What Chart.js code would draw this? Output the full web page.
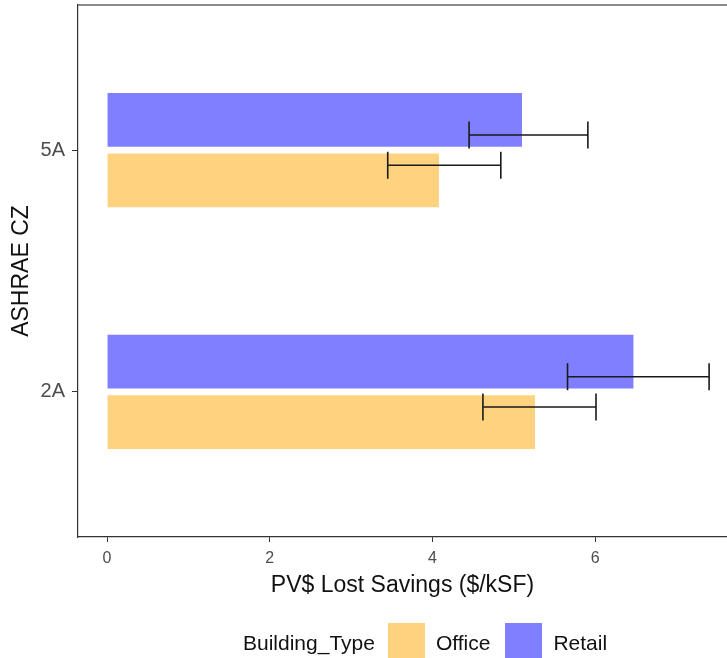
<!DOCTYPE html>
<html>
<head>
<meta charset="utf-8">
<script src="https://cdn.jsdelivr.net/npm/chart.js@4.4.1/dist/chart.umd.min.js"></script>
<style>
    html, body { margin: 0; padding: 0; background: #fff; }
    #wrap { position: relative; width: 727px; height: 658px; overflow: hidden; }
    #legend {
        position: absolute; left: 243px; top: 623px; height: 40px;
        display: flex; align-items: flex-start;
        font-family: "Liberation Sans", Arial, sans-serif; font-size: 21px; color: #111;
    }
    #legend .lbl { line-height: 40px; height: 40px; }
    #legend .sw { width: 37px; height: 40px; }
</style>
</head>
<body>
<div id="wrap">
    <canvas id="chart" width="727" height="658"></canvas>
    <div id="legend"></div>
</div>
<script>
    "use strict";

    /* --- Data --- */
    var zones = ["2A", "5A"];
    var zonePos = [1, 2];
    var officeVals = [5.26, 4.08];
    var officeLow = [4.62, 3.45];
    var officeHigh = [6.01, 4.84];
    var retailVals = [6.47, 5.10];
    var retailLow = [5.66, 4.45];
    var retailHigh = [7.40, 5.91];
    var xTicks = [0, 2, 4, 6];

    var FONT = "'Liberation Sans', Arial, sans-serif";
    var officeColor = "rgba(255, 165, 0, 0.5)";
    var retailColor = "rgba(0, 0, 255, 0.5)";

    function points(vals) {
        return vals.map(function (v, i) { return { x: v, y: zonePos[i] }; });
    }

    /* --- Error bars, drawn at half the bar offset like ggplot's dodge --- */
    var errorBars = {
        id: "errorBars",
        afterDatasetsDraw: function (chart) {
            var ctx = chart.ctx;
            var xs = chart.scales.x, ys = chart.scales.y;
            ctx.save();
            ctx.strokeStyle = "#1a1a1a";
            ctx.lineWidth = 1.6;
            chart.data.datasets.forEach(function (ds, di) {
                var meta = chart.getDatasetMeta(di);
                meta.data.forEach(function (bar, i) {
                    var cy = ys.getPixelForValue(zonePos[i]);
                    var y = (bar.y + cy) / 2;
                    var x0 = xs.getPixelForValue(ds.low[i]);
                    var x1 = xs.getPixelForValue(ds.high[i]);
                    ctx.beginPath();
                    ctx.moveTo(x0, y); ctx.lineTo(x1, y);
                    ctx.moveTo(x0, y - 13.5); ctx.lineTo(x0, y + 13.5);
                    ctx.moveTo(x1, y - 13.5); ctx.lineTo(x1, y + 13.5);
                    ctx.stroke();
                });
            });
            ctx.restore();
        }
    };

    /* --- Top edge of the panel border --- */
    var panelTop = {
        id: "panelTop",
        afterDraw: function (chart) {
            var a = chart.chartArea, ctx = chart.ctx;
            ctx.save();
            ctx.strokeStyle = "#666";
            ctx.lineWidth = 1.5;
            ctx.beginPath();
            ctx.moveTo(a.left, a.top);
            ctx.lineTo(a.right, a.top);
            ctx.stroke();
            ctx.restore();
        }
    };

    new Chart(document.getElementById("chart"), {
        type: "bar",
        data: {
            datasets: [
                {
                    label: "Retail",
                    data: points(retailVals),
                    low: retailLow,
                    high: retailHigh,
                    backgroundColor: retailColor,
                    borderWidth: 0
                },
                {
                    label: "Office",
                    data: points(officeVals),
                    low: officeLow,
                    high: officeHigh,
                    backgroundColor: officeColor,
                    borderWidth: 0
                }
            ]
        },
        plugins: [errorBars, panelTop],
        options: {
            indexAxis: "y",
            responsive: false,
            animation: false,
            devicePixelRatio: 1,
            categoryPercentage: 0.5,
            barPercentage: 0.89,
            layout: { padding: { top: 5, right: 0, bottom: 59, left: 8 } },
            plugins: {
                legend: { display: false },
                tooltip: { enabled: false }
            },
            scales: {
                x: {
                    type: "linear",
                    min: -0.357,
                    max: 7.62,
                    afterBuildTicks: function (s) {
                        s.ticks = xTicks.map(function (v) { return { value: v }; });
                    },
                    afterFit: function (s) { s.height = 62; },
                    ticks: {
                        color: "#4d4d4d",
                        padding: 7,
                        font: { family: FONT, size: 16 }
                    },
                    grid: { drawOnChartArea: false, drawTicks: true, tickLength: 5, color: "#333", lineWidth: 1 },
                    border: { display: true, color: "#333", width: 1.2 },
                    title: {
                        display: true,
                        text: "PV$ Lost Savings ($/kSF)",
                        color: "#111",
                        padding: 0,
                        font: { family: FONT, size: 23 }
                    }
                },
                y: {
                    type: "linear",
                    min: 0.4,
                    max: 2.6,
                    offset: false,
                    afterBuildTicks: function (s) {
                        s.ticks = zonePos.map(function (v) { return { value: v }; });
                    },
                    afterFit: function (s) {
                        s.width = 70;
                        s.paddingTop = 0;
                        s.paddingBottom = 0;
                    },
                    ticks: {
                        color: "#4d4d4d",
                        padding: 7,
                        font: { family: FONT, size: 20 },
                        callback: function (v) {
                            var i = zonePos.indexOf(v);
                            return i >= 0 ? zones[i] : "";
                        }
                    },
                    grid: { offset: false, drawOnChartArea: false, drawTicks: true, tickLength: 6, color: "#333", lineWidth: 1 },
                    border: { display: true, color: "#333", width: 1.2 },
                    title: {
                        display: true,
                        text: "ASHRAE CZ",
                        color: "#111",
                        padding: 0,
                        font: { family: FONT, size: 23 }
                    }
                }
            }
        }
    });

    /* --- Legend (ggplot style, title inline) --- */
    var legend = document.getElementById("legend");
    var items = [
        { kind: "lbl", text: "Building_Type", mr: 13 },
        { kind: "sw", color: officeColor, mr: 11 },
        { kind: "lbl", text: "Office", mr: 15 },
        { kind: "sw", color: retailColor, mr: 11 },
        { kind: "lbl", text: "Retail", mr: 0 }
    ];
    items.forEach(function (it) {
        var el = document.createElement("div");
        el.className = it.kind;
        if (it.kind === "lbl") el.textContent = it.text;
        else el.style.background = it.color;
        el.style.marginRight = it.mr + "px";
        legend.appendChild(el);
    });
</script>
</body>
</html>
